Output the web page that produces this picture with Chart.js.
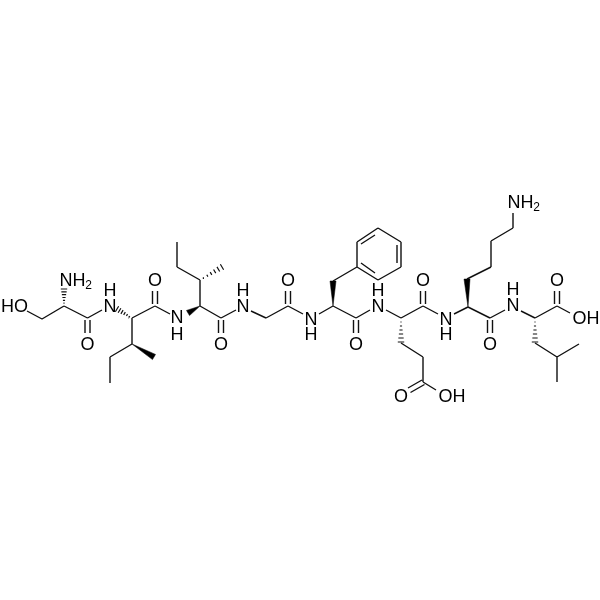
<!DOCTYPE html>
<html>
<head>
<meta charset="utf-8">
<script src="https://cdn.jsdelivr.net/npm/chart.js@4"></script>
<style>
html, body { margin: 0; padding: 0; background: #fff; }
canvas { display: block; }
</style>
</head>
<body>
<canvas id="peptideChart" width="600" height="600"></canvas>
<script>
// each bond: x1, y1, x2, y2
const singleBonds = [
    [27,311,42,319],[42,319,64,306],[64,306,87.5,318],[87.5,318,102,310],
    [132,318,155,306],[132,318,132,344],[132,344,110,357],[110,357,110,383],
    [155,306,170,314],[200,306,200,280],[200,280,177,267],[177,267,177,242],
    [200,306,221,318],[221,318,236,310],[251,311,266,318],[266,318,288,306],
    [288,306,303,314],[319,314,333,306],[333,306,356,318],[333,281,357,267],
    [356,318,370,310],[386,310,401,318],[401,318,423,306],[423,306,438,314],
    [454,314,468,307],[468,307,490,318],[490,318,505,310],[521,311,535,318],
    [535,318,557,306],[557,306,570,313],[535,343,557,357],[557,357,579,344],
    [557,357,557,382],[401,343,423,357],[423,357,423,382],[423,382,436,390],
    [467,279,491,267],[491,267,491,241],[491,241,513,228],[513,228,513,213]
];
const ringBonds = [
    [378,228,401,242],[401,242,401,267],[401,267,378,280],
    [378,280,357,267],[357,267,357,242],[357,242,378,228]
];
const doubleBonds = [
    [85,320,85,333],[90,320,90,333],[218.5,320,218.5,333],[223.5,320,223.5,333],
    [353.5,320,353.5,333],[358.5,320,358.5,333],[487.5,320,487.5,333],[492.5,320,492.5,333],
    [152.5,304,152.5,291],[157.5,304,157.5,291],[285.5,304,285.5,291],[290.5,304,290.5,291],
    [420.5,304,420.5,291],[425.5,304,425.5,291],[554.5,304,554.5,291],[559.5,304,559.5,291],
    [422,380,408,388],[424.5,384.5,410.5,392.5],
    [361,244,375,235],[397,245,397,263],[361,263,375,273]
];
// stereo bonds: narrow end x, y, wide end x, y
const wedgeBonds = [
    [132,344,154,357],[200,306,188,313],[333,306,333,281],[468,307,467,279]
];
const hashBonds = [
    [64,306,64,289],[132,318,117,309],[200,280,222,267],[401,318,401,342],[535,318,535,342]
];
// text, centre x, centre y
const atomLabels = [
    ['HO',14.5,307],['N',66,281],['H',79,281],['O',87.5,345],['N',110,307],['H',110,291],
    ['O',155,281],['N',177,318],['H',177,335],['O',221,345],['N',243,307],['H',243,291],
    ['O',288,281],['N',311,320],['H',311,335],['O',356,345],['N',378,307],['H',378,291],
    ['O',423,281],['N',446,320],['H',446,335],['O',490,345],['N',513,306],['H',513,290],
    ['O',557,281],['OH',586,319],['O',401,397],['OH',452,397],['N',514,203],['H',527,203]
];
const subscriptLabels = [['2',88.5,286],['2',536.5,208]];

function toSegments(bonds) {
    const pts = [];
    bonds.forEach(b => {
        pts.push({x: b[0], y: b[1]}, {x: b[2], y: b[3]}, {x: null, y: null});
    });
    return pts;
}

function wedgeShape(b, half) {
    const dx = b[2] - b[0], dy = b[3] - b[1];
    const len = Math.hypot(dx, dy);
    const nx = -dy / len * half, ny = dx / len * half;
    return [{x: b[0], y: b[1]}, {x: b[2] + nx, y: b[3] + ny}, {x: b[2] - nx, y: b[3] - ny}, {x: b[0], y: b[1]}];
}

function hashSegments(b, half, count) {
    const out = [];
    const dx = b[2] - b[0], dy = b[3] - b[1];
    const len = Math.hypot(dx, dy);
    for (let i = 1; i <= count; i++) {
        const t = i / count;
        const nx = -dy / len * half * t, ny = dx / len * half * t;
        const cx = b[0] + dx * t, cy = b[1] + dy * t;
        out.push([cx + nx, cy + ny, cx - nx, cy - ny]);
    }
    return out;
}

const lineStyle = {showLine: true, pointRadius: 0, borderColor: '#111', borderWidth: 1.4, fill: false};

const datasets = [
    Object.assign({label: 'bonds', data: toSegments(singleBonds.concat(ringBonds, doubleBonds))}, lineStyle),
    Object.assign({label: 'hash', data: toSegments(hashBonds.flatMap(b => hashSegments(b, 3.2, 6)))}, lineStyle, {borderWidth: 1.2})
];
wedgeBonds.forEach(b => {
    datasets.push(Object.assign({}, lineStyle, {
        label: 'wedge',
        data: wedgeShape(b, 3),
        borderColor: '#000',
        borderWidth: 0.5,
        backgroundColor: '#000',
        fill: 'shape'
    }));
});

const atomText = {
    id: 'atomText',
    afterDatasetsDraw(chart) {
        const ctx = chart.ctx;
        const xs = chart.scales.x, ys = chart.scales.y;
        ctx.save();
        ctx.fillStyle = '#000';
        ctx.textAlign = 'center';
        ctx.textBaseline = 'middle';
        ctx.font = '18px "Liberation Sans"';
        atomLabels.forEach(l => ctx.fillText(l[0], xs.getPixelForValue(l[1]), ys.getPixelForValue(l[2])));
        ctx.font = '12px "Liberation Sans"';
        subscriptLabels.forEach(l => ctx.fillText(l[0], xs.getPixelForValue(l[1]), ys.getPixelForValue(l[2])));
        ctx.restore();
    }
};

new Chart(document.getElementById('peptideChart'), {
    type: 'scatter',
    data: {datasets: datasets},
    options: {
        responsive: false,
        animation: false,
        layout: {padding: 0},
        plugins: {legend: {display: false}, tooltip: {enabled: false}},
        scales: {
            x: {type: 'linear', min: 0, max: 600, display: false},
            y: {type: 'linear', min: 0, max: 600, reverse: true, display: false}
        }
    },
    plugins: [atomText]
});
</script>
</body>
</html>
